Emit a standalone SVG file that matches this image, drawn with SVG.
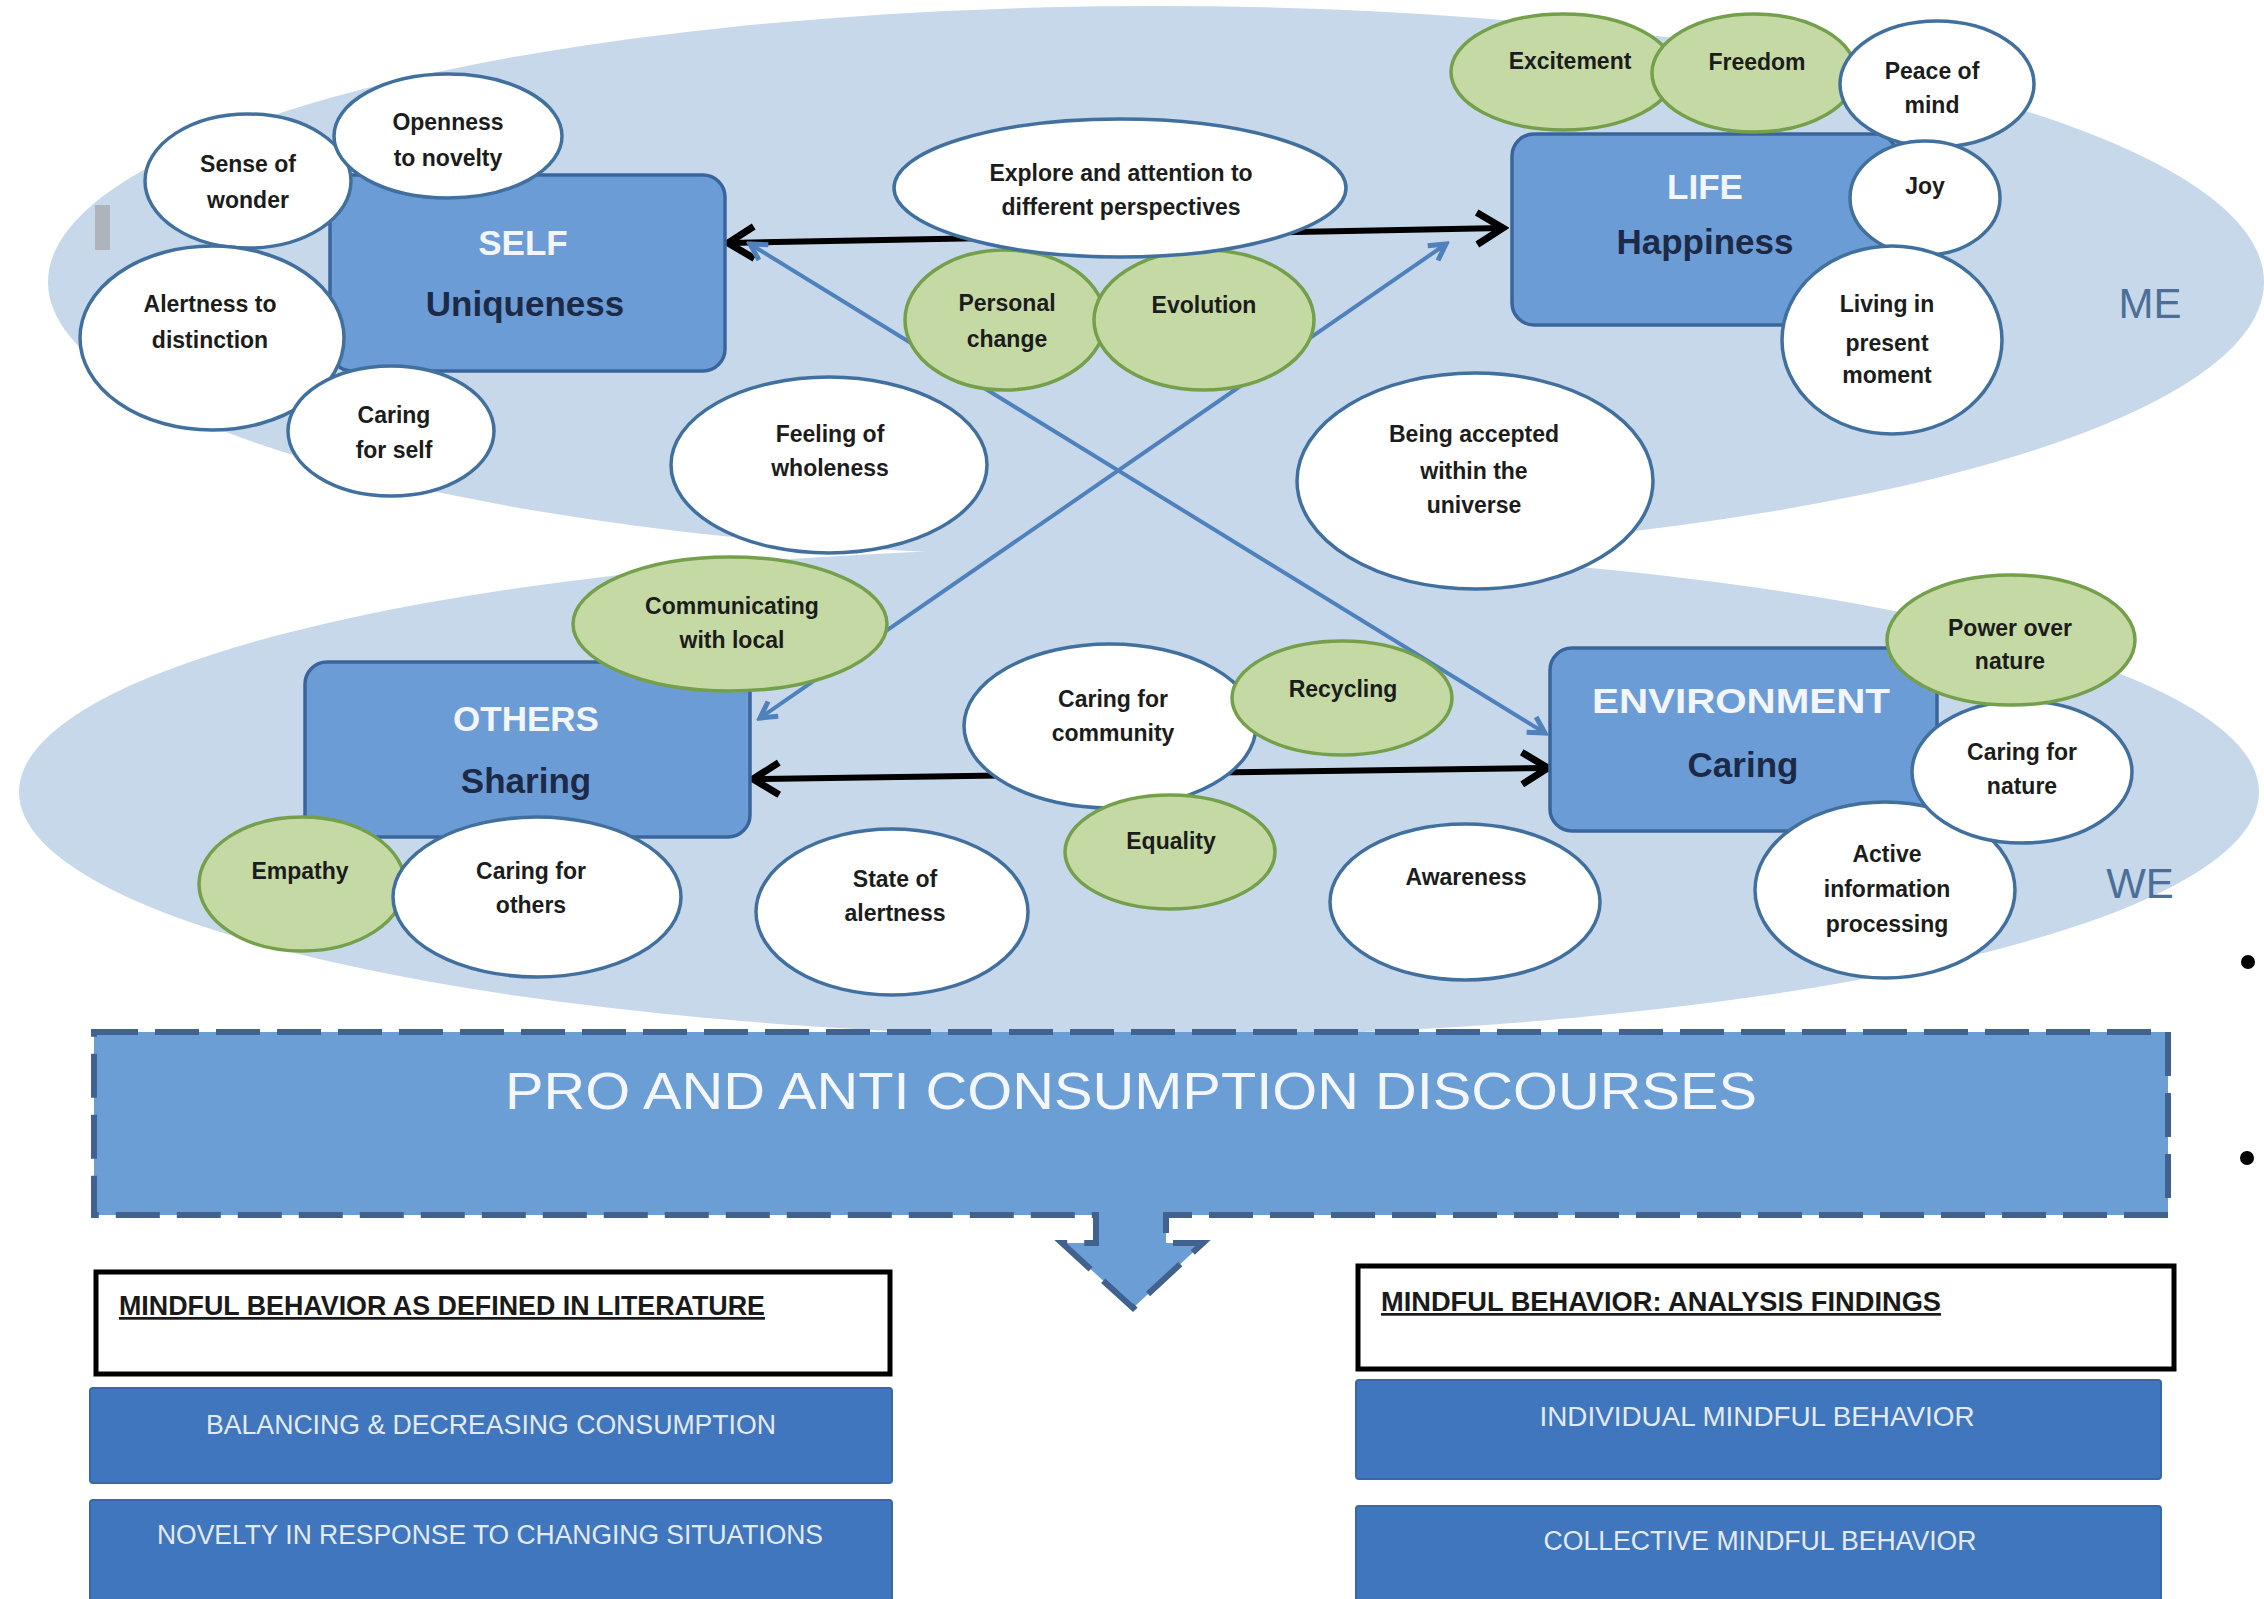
<svg xmlns="http://www.w3.org/2000/svg" width="2264" height="1599" viewBox="0 0 2264 1599">
<defs>
<style>
.bg{fill:#c7d8ea;stroke:none}
.box{fill:#6c9cd5;stroke:#3a659c;stroke-width:3.5}
.w{fill:#ffffff;stroke:#41709f;stroke-width:3.5}
.g{fill:#c4d9a4;stroke:#74a04c;stroke-width:3.5}
.t{font-family:"Liberation Sans",Arial,sans-serif;font-weight:bold;font-size:23px;fill:#1c1c1c;text-anchor:middle}
.h1{font-family:"Liberation Sans",Arial,sans-serif;font-weight:bold;font-size:35px;fill:#f2f6fb;text-anchor:middle}
.h2{font-family:"Liberation Sans",Arial,sans-serif;font-weight:bold;font-size:35px;fill:#1c2a48;text-anchor:middle}
.lbl{font-family:"Liberation Sans",Arial,sans-serif;font-size:42px;fill:#4b6f98;text-anchor:middle}
.blk{stroke:#000;stroke-width:6;fill:none}
.blu{stroke:#4f81bd;stroke-width:4;fill:none}
.hdr{fill:#ffffff;stroke:#000;stroke-width:5}
.bb{fill:#3f76bd;stroke:#3868a8;stroke-width:2}
.bt{font-family:"Liberation Sans",Arial,sans-serif;font-size:27px;fill:#e4eaf2;text-anchor:middle}
.ht{font-family:"Liberation Sans",Arial,sans-serif;font-weight:bold;font-size:27px;fill:#1a1a1a;text-decoration:underline}
</style>
<marker id="ab" viewBox="0 0 40 40" markerUnits="userSpaceOnUse" markerWidth="40" markerHeight="40" refX="34" refY="20" orient="auto-start-reverse">
<path d="M8,4 L34,20 L8,36" fill="none" stroke="#000" stroke-width="7"/>
</marker>
<marker id="au" viewBox="0 0 24 24" markerUnits="userSpaceOnUse" markerWidth="24" markerHeight="24" refX="20" refY="12" orient="auto-start-reverse">
<path d="M4,3 L20,12 L4,21" fill="none" stroke="#4f81bd" stroke-width="5"/>
</marker>
</defs>
<rect x="0" y="0" width="2264" height="1599" fill="#ffffff"/>
<g id="regions">
<ellipse class="bg" cx="1156" cy="282" rx="1108" ry="276"/>
<ellipse class="bg" cx="1139" cy="792" rx="1120" ry="245"/>
<rect x="95" y="205" width="15" height="45" fill="#aeb4ba"/>
<text class="lbl" x="2150" y="318">ME</text>
<text class="lbl" x="2140" y="898">WE</text>
</g>
<g id="connectors">
<line class="blk" x1="728" y1="243" x2="1503" y2="228" marker-start="url(#ab)" marker-end="url(#ab)"/>
<line class="blk" x1="753" y1="779" x2="1548" y2="768" marker-start="url(#ab)" marker-end="url(#ab)"/>
<line class="blu" x1="760" y1="718" x2="1446" y2="244" marker-start="url(#au)" marker-end="url(#au)"/>
<line class="blu" x1="750" y1="244" x2="1545" y2="733" marker-start="url(#au)" marker-end="url(#au)"/>
</g>
<g id="self">
<rect class="box" x="330" y="175" width="395" height="196" rx="22"/>
<text class="h1" x="523" y="255">SELF</text>
<text class="h2" x="525" y="316">Uniqueness</text>
</g>
<g id="sense-of-wonder"><ellipse class="w" cx="248" cy="181" rx="103" ry="67"/><text class="t" x="248" y="172">Sense of</text><text class="t" x="248" y="208">wonder</text></g>
<g id="openness"><ellipse class="w" cx="448" cy="136" rx="114" ry="62"/><text class="t" x="448" y="130">Openness</text><text class="t" x="448" y="166">to novelty</text></g>
<g id="alertness"><ellipse class="w" cx="212" cy="338" rx="132" ry="92"/><text class="t" x="210" y="312">Alertness to</text><text class="t" x="210" y="348">distinction</text></g>
<g id="caring-self"><ellipse class="w" cx="391" cy="431" rx="103" ry="65"/><text class="t" x="394" y="423">Caring</text><text class="t" x="394" y="458">for self</text></g>
<g id="personal-change"><ellipse class="g" cx="1005" cy="320" rx="100" ry="70"/><text class="t" x="1007" y="311">Personal</text><text class="t" x="1007" y="347">change</text></g>
<g id="evolution"><ellipse class="g" cx="1204" cy="320" rx="110" ry="70"/><text class="t" x="1204" y="313">Evolution</text></g>
<g id="explore"><ellipse class="w" cx="1120" cy="188" rx="226" ry="69"/><text class="t" x="1121" y="181">Explore and attention to</text><text class="t" x="1121" y="215">different perspectives</text></g>
<g id="feeling"><ellipse class="w" cx="829" cy="465" rx="158" ry="88"/><text class="t" x="830" y="442">Feeling of</text><text class="t" x="830" y="476">wholeness</text></g>
<g id="being-accepted"><ellipse class="w" cx="1475" cy="481" rx="178" ry="108"/><text class="t" x="1474" y="442">Being accepted</text><text class="t" x="1474" y="479">within the</text><text class="t" x="1474" y="513">universe</text></g>
<g id="life">
<rect class="box" x="1512" y="134" width="385" height="191" rx="22"/>
<text class="h1" x="1705" y="199">LIFE</text>
<text class="h2" x="1705" y="254">Happiness</text>
</g>
<g id="excitement"><ellipse class="g" cx="1563" cy="72" rx="112" ry="58"/><text class="t" x="1570" y="69">Excitement</text></g>
<g id="freedom"><ellipse class="g" cx="1754" cy="73" rx="102" ry="59"/><text class="t" x="1757" y="70">Freedom</text></g>
<g id="peace"><ellipse class="w" cx="1937" cy="84" rx="97" ry="63"/><text class="t" x="1932" y="79">Peace of</text><text class="t" x="1932" y="113">mind</text></g>
<g id="joy"><ellipse class="w" cx="1925" cy="198" rx="75" ry="57"/><text class="t" x="1925" y="194">Joy</text></g>
<g id="living"><ellipse class="w" cx="1892" cy="340" rx="110" ry="94"/><text class="t" x="1887" y="312">Living in</text><text class="t" x="1887" y="351">present</text><text class="t" x="1887" y="383">moment</text></g>
<g id="others">
<rect class="box" x="305" y="662" width="445" height="175" rx="22"/>
<text class="h1" x="526" y="731">OTHERS</text>
<text class="h2" x="526" y="793">Sharing</text>
</g>
<g id="communicating"><ellipse class="g" cx="730" cy="624" rx="157" ry="67"/><text class="t" x="732" y="614">Communicating</text><text class="t" x="732" y="648">with local</text></g>
<g id="empathy"><ellipse class="g" cx="302" cy="884" rx="103" ry="67"/><text class="t" x="300" y="879">Empathy</text></g>
<g id="caring-others"><ellipse class="w" cx="537" cy="897" rx="144" ry="80"/><text class="t" x="531" y="879">Caring for</text><text class="t" x="531" y="913">others</text></g>
<g id="caring-community"><ellipse class="w" cx="1110" cy="726" rx="146" ry="82"/><text class="t" x="1113" y="707">Caring for</text><text class="t" x="1113" y="741">community</text></g>
<g id="recycling"><ellipse class="g" cx="1342" cy="698" rx="110" ry="57"/><text class="t" x="1343" y="697">Recycling</text></g>
<g id="equality"><ellipse class="g" cx="1170" cy="852" rx="105" ry="57"/><text class="t" x="1171" y="849">Equality</text></g>
<g id="state-alertness"><ellipse class="w" cx="892" cy="912" rx="136" ry="83"/><text class="t" x="895" y="887">State of</text><text class="t" x="895" y="921">alertness</text></g>
<g id="awareness"><ellipse class="w" cx="1465" cy="902" rx="135" ry="78"/><text class="t" x="1466" y="885">Awareness</text></g>
<g id="environment">
<rect class="box" x="1550" y="648" width="387" height="183" rx="22"/>
<text class="h1" x="1741" y="713" textLength="298" lengthAdjust="spacingAndGlyphs">ENVIRONMENT</text>
<text class="h2" x="1743" y="777">Caring</text>
</g>
<g id="active-info"><ellipse class="w" cx="1885" cy="890" rx="130" ry="88"/><text class="t" x="1887" y="862">Active</text><text class="t" x="1887" y="897">information</text><text class="t" x="1887" y="932">processing</text></g>
<g id="caring-nature"><ellipse class="w" cx="2022" cy="772" rx="110" ry="71"/><text class="t" x="2022" y="760">Caring for</text><text class="t" x="2022" y="794">nature</text></g>
<g id="power-nature"><ellipse class="g" cx="2011" cy="640" rx="124" ry="65"/><text class="t" x="2010" y="636">Power over</text><text class="t" x="2010" y="669">nature</text></g>
<g id="discourses">
<path d="M94,1032 H2168 V1215 H1166 V1243 H1203 L1133,1308 L1062,1243 H1096 V1215 H94 Z" fill="#6c9ed6" stroke="#41618f" stroke-width="6" stroke-dasharray="44 17"/>
<text x="1131" y="1109" font-family="'Liberation Sans',Arial,sans-serif" font-size="52" fill="#f3f6fb" text-anchor="middle" textLength="1252" lengthAdjust="spacingAndGlyphs">PRO AND ANTI CONSUMPTION DISCOURSES</text>
</g>
<g id="literature-header"><rect class="hdr" x="96" y="1272" width="794" height="102"/><text class="ht" x="119" y="1315" textLength="646" lengthAdjust="spacingAndGlyphs">MINDFUL BEHAVIOR AS DEFINED IN LITERATURE</text></g>
<g id="balancing"><rect class="bb" x="90" y="1388" width="802" height="95" rx="3"/><text class="bt" x="491" y="1434" textLength="570" lengthAdjust="spacingAndGlyphs">BALANCING &amp; DECREASING CONSUMPTION</text></g>
<g id="novelty"><rect class="bb" x="90" y="1500" width="802" height="110" rx="3"/><text class="bt" x="490" y="1544" textLength="666" lengthAdjust="spacingAndGlyphs">NOVELTY IN RESPONSE TO CHANGING SITUATIONS</text></g>
<g id="findings-header"><rect class="hdr" x="1358" y="1266" width="816" height="103"/><text class="ht" x="1381" y="1311" textLength="560" lengthAdjust="spacingAndGlyphs">MINDFUL BEHAVIOR: ANALYSIS FINDINGS</text></g>
<g id="individual"><rect class="bb" x="1356" y="1380" width="805" height="99" rx="3"/><text class="bt" x="1757" y="1426" textLength="435" lengthAdjust="spacingAndGlyphs">INDIVIDUAL MINDFUL BEHAVIOR</text></g>
<g id="collective"><rect class="bb" x="1356" y="1506" width="805" height="104" rx="3"/><text class="bt" x="1760" y="1550" textLength="433" lengthAdjust="spacingAndGlyphs">COLLECTIVE MINDFUL BEHAVIOR</text></g>
<g id="bullets"><circle cx="2248" cy="962" r="7" fill="#000"/><circle cx="2247" cy="1158" r="7" fill="#000"/></g>
</svg>
